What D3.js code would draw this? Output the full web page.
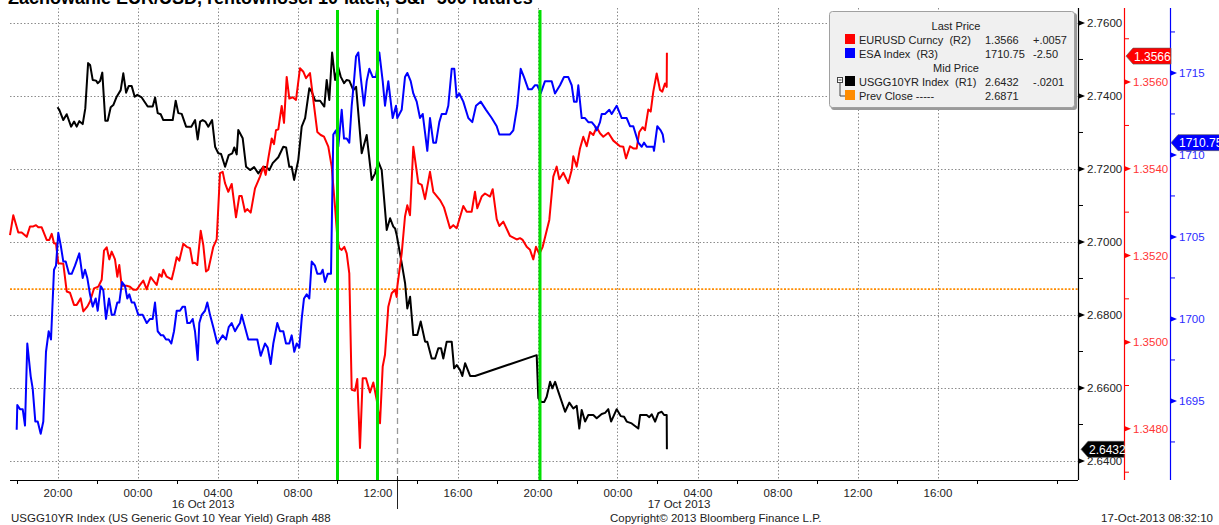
<!DOCTYPE html>
<html>
<head>
<meta charset="utf-8">
<script src="https://cdn.jsdelivr.net/npm/d3@7"></script>
<style>
  body { margin: 0; background: #fff; }
  svg { display: block; font-family: "Liberation Sans", Arial, sans-serif; }
  .pre { white-space: pre; }
</style>
</head>
<body>
<svg id="chart" width="1219" height="525"></svg>
<script>
// Zeitangaben: Stunden seit 15 Oct 2013 00:00

// USGG10YR Index (R1)
const usggData = [
  [20.0,2.7369],[20.09,2.7362],[20.29,2.7334],[20.46,2.7350],[20.68,2.7316],[20.83,2.7330],[20.96,2.7316],
  [21.09,2.7331],[21.26,2.7323],[21.39,2.7366],[21.53,2.7490],[21.63,2.7485],[21.76,2.7444],[21.93,2.7442],
  [22.01,2.7435],[22.13,2.7441],[22.24,2.7464],[22.39,2.7332],[22.51,2.7332],[22.66,2.7369],[22.79,2.7375],
  [22.96,2.7398],[23.16,2.7416],[23.29,2.7462],[23.43,2.7409],[23.56,2.7427],[23.71,2.7427],[23.86,2.7398],
  [23.99,2.7403],[24.21,2.7396],[24.51,2.7371],[24.76,2.7371],[24.88,2.7396],[25.01,2.7353],[25.16,2.7350],
  [25.29,2.7334],[25.76,2.7334],[25.91,2.7387],[26.04,2.7353],[26.21,2.7351],[26.43,2.7316],[26.69,2.7316],
  [26.88,2.7334],[27.01,2.7281],[27.13,2.7330],[27.26,2.7334],[27.39,2.7330],[27.54,2.7316],[27.73,2.7334],
  [27.88,2.7261],[28.04,2.7243],[28.18,2.7241],[28.38,2.7206],[28.56,2.7238],[28.74,2.7243],[28.84,2.7259],
  [28.96,2.7240],[29.04,2.7307],[29.26,2.7284],[29.43,2.7206],[29.63,2.7197],[29.83,2.7205],[30.04,2.7188],
  [30.29,2.7206],[30.46,2.7205],[30.59,2.7197],[30.76,2.7216],[31.04,2.7232],[31.29,2.7261],[31.43,2.7259],
  [31.59,2.7206],[31.71,2.7206],[31.83,2.7170],[32.04,2.7225],[32.21,2.7316],[32.38,2.7339],[32.59,2.7421],
  [32.71,2.7412],[32.88,2.7387],[33.13,2.7387],[33.34,2.7371],[33.46,2.7444],[33.59,2.7389],[33.73,2.7519],
  [33.88,2.7444],[34.03,2.7480],[34.16,2.7453],[34.33,2.7435],[34.46,2.7444],[34.59,2.7442],[34.79,2.7416],
  [34.93,2.7425],[35.21,2.7243],[35.46,2.7293],[35.71,2.7170],[35.88,2.7188],[36.04,2.7220],[36.21,2.7197],
  [36.46,2.7033],[36.63,2.7065],[36.79,2.7042],[36.88,2.7037],[36.96,2.7019],[37.21,2.6942],[37.38,2.6887],
  [37.49,2.6818],[37.63,2.6850],[37.79,2.6745],[37.99,2.6745],[38.16,2.6782],[38.38,2.6727],[38.49,2.6727],
  [38.71,2.6681],[38.88,2.6681],[39.04,2.6709],[39.18,2.6709],[39.29,2.6681],[39.46,2.6727],[39.71,2.6727],
  [39.83,2.6654],[39.96,2.6663],[40.13,2.6649],[40.24,2.6633],[40.38,2.6668],[40.63,2.6633],[40.88,2.6633],
  [43.96,2.6690],[44.04,2.6572],[44.18,2.6562],[44.34,2.6562],[44.46,2.6576],[44.63,2.6617],[44.74,2.6599],
  [44.88,2.6617],[45.04,2.6590],[45.38,2.6535],[45.59,2.6560],[45.79,2.6544],[45.96,2.6551],[46.09,2.6489],
  [46.21,2.6540],[46.38,2.6508],[46.54,2.6526],[46.79,2.6526],[46.96,2.6517],[47.21,2.6529],[47.38,2.6532],
  [47.54,2.6542],[47.68,2.6508],[47.96,2.6542],[48.16,2.6523],[48.33,2.6521],[48.46,2.6508],[48.71,2.6503],
  [49.04,2.6489],[49.13,2.6526],[49.46,2.6526],[49.59,2.6520],[49.71,2.6528],[49.88,2.6508],[50.04,2.6531],
  [50.21,2.6535],[50.33,2.6526],[50.46,2.6526],[50.47,2.6432]
];

// EURUSD Curncy (R2)
const eurData = [
  [17.625,1.35247],[17.79,1.35293],[18.04,1.35253],[18.21,1.35253],[18.46,1.35243],[18.625,1.35267],[18.79,1.35267],
  [18.925,1.35270],[19.04,1.35265],[19.21,1.35265],[19.46,1.35236],[19.59,1.35236],[19.71,1.35250],[19.825,1.35228],
  [19.925,1.35227],[20.04,1.35182],[20.29,1.35181],[20.46,1.35117],[20.625,1.35114],[20.825,1.35086],[20.96,1.35086],
  [21.16,1.35101],[21.29,1.35071],[21.49,1.35082],[21.625,1.35094],[21.825,1.35124],[22.04,1.35128],[22.21,1.35144],
  [22.325,1.35211],[22.46,1.35219],[22.59,1.35191],[22.71,1.35209],[22.875,1.35191],[22.99,1.35151],[23.09,1.35178],
  [23.21,1.35130],[23.46,1.35130],[23.625,1.35128],[23.79,1.35121],[23.96,1.35121],[24.125,1.35132],[24.29,1.35142],
  [24.46,1.35122],[24.66,1.35150],[24.825,1.35140],[24.96,1.35132],[25.09,1.35157],[25.21,1.35151],[25.29,1.35167],
  [25.46,1.35151],[25.71,1.35145],[25.825,1.35167],[25.96,1.35196],[26.09,1.35188],[26.29,1.35227],[26.46,1.35220],
  [26.625,1.35217],[26.76,1.35182],[26.875,1.35183],[26.99,1.35178],[27.16,1.35257],[27.29,1.35224],[27.425,1.35163],
  [27.54,1.35167],[27.79,1.35220],[27.96,1.35237],[28.125,1.35390],[28.26,1.35393],[28.375,1.35367],[28.54,1.35347],
  [28.71,1.35365],[28.925,1.35288],[29.09,1.35337],[29.21,1.35337],[29.375,1.35301],[29.49,1.35307],[29.66,1.35299],
  [29.875,1.35355],[30.125,1.35382],[30.29,1.35405],[30.41,1.35386],[30.54,1.35424],[30.71,1.35470],[30.825,1.35457],
  [30.925,1.35489],[31.04,1.35491],[31.21,1.35545],[31.325,1.35506],[31.46,1.35612],[31.59,1.35562],[31.76,1.35565],
  [31.925,1.35559],[32.125,1.35632],[32.29,1.35624],[32.425,1.35609],[32.625,1.35621],[32.79,1.35559],[32.99,1.35485],
  [33.16,1.35478],[33.325,1.35474],[33.54,1.35451],[33.71,1.35405],[33.875,1.35313],[33.99,1.35243],[34.09,1.35217],
  [34.21,1.35213],[34.34,1.35220],[34.46,1.35205],[34.59,1.35159],[34.71,1.34890],[34.875,1.34888],[34.99,1.34915],
  [35.125,1.34756],[35.26,1.34917],[35.425,1.34917],[35.625,1.34884],[35.79,1.34907],[35.96,1.34867],[36.125,1.34813],
  [36.26,1.34944],[36.375,1.34971],[36.54,1.35082],[36.71,1.35113],[36.875,1.35121],[36.96,1.35104],[36.99,1.35128],
  [37.21,1.35205],[37.375,1.35290],[37.49,1.35316],[37.625,1.35293],[37.79,1.35451],[38.04,1.35367],[38.21,1.35363],
  [38.375,1.35330],[38.625,1.35393],[38.79,1.35347],[39.125,1.35328],[39.325,1.35311],[39.625,1.35263],[39.79,1.35270],
  [39.96,1.35263],[40.29,1.35314],[40.46,1.35301],[40.71,1.35301],[40.875,1.35347],[40.99,1.35309],[41.21,1.35336],
  [41.375,1.35343],[41.625,1.35336],[41.76,1.35353],[41.96,1.35284],[42.09,1.35268],[42.29,1.35278],[42.625,1.35245],
  [42.96,1.35237],[43.125,1.35240],[43.26,1.35236],[43.46,1.35220],[43.625,1.35213],[43.79,1.35191],[43.925,1.35220],
  [44.09,1.35203],[44.26,1.35220],[44.59,1.35282],[44.79,1.35382],[44.96,1.35405],[45.09,1.35376],[45.29,1.35391],
  [45.54,1.35367],[45.71,1.35397],[45.79,1.35429],[45.96,1.35405],[46.125,1.35447],[46.29,1.35474],[46.46,1.35452],
  [46.625,1.35485],[46.79,1.35478],[46.96,1.35496],[47.125,1.35482],[47.29,1.35474],[47.54,1.35483],[47.79,1.35465],
  [48.125,1.35452],[48.29,1.35451],[48.425,1.35424],[48.625,1.35452],[48.79,1.35447],[48.96,1.35447],[49.09,1.35485],
  [49.26,1.35496],[49.375,1.35489],[49.54,1.35537],[49.66,1.35532],[49.79,1.35578],[49.96,1.35620],[50.125,1.35582],
  [50.24,1.35578],[50.375,1.35597],[50.46,1.35589],[50.47,1.35668]
];

// ESA Index (R3)
const esaData = [
  [17.96,1693.25],[17.99,1694.75],[18.125,1694.5],[18.26,1694.5],[18.375,1693.5],[18.49,1698.5],[18.66,1696.5],
  [18.76,1695.75],[18.89,1693.75],[19.01,1693.75],[19.16,1693.0],[19.29,1693.75],[19.425,1698.0],[19.56,1699.25],
  [19.675,1698.75],[19.825,1703.0],[19.925,1703.25],[20.04,1705.25],[20.16,1704.5],[20.29,1703.5],[20.41,1703.5],
  [20.575,1702.75],[20.71,1702.75],[20.875,1703.25],[21.09,1704.0],[21.26,1702.5],[21.375,1703.0],[21.49,1702.5],
  [21.625,1701.5],[21.76,1700.75],[21.91,1701.25],[22.01,1700.5],[22.16,1702.0],[22.29,1701.75],[22.425,1700.0],
  [22.575,1701.25],[22.71,1700.25],[22.84,1700.25],[22.99,1701.0],[23.09,1701.0],[23.225,1702.25],[23.375,1702.0],
  [23.49,1701.25],[23.59,1701.5],[23.71,1701.0],[23.84,1701.0],[24.04,1700.25],[24.26,1700.25],[24.46,1699.75],
  [24.625,1700.0],[24.76,1700.0],[24.875,1701.0],[25.01,1699.25],[25.175,1699.0],[25.29,1699.0],[25.425,1698.75],
  [25.56,1698.75],[25.69,1698.5],[25.825,1699.25],[25.96,1700.5],[26.125,1700.5],[26.26,1700.75],[26.375,1700.75],
  [26.49,1699.75],[26.625,1699.75],[26.76,1700.0],[26.875,1699.25],[27.01,1697.5],[27.09,1699.75],[27.21,1700.25],
  [27.375,1700.5],[27.49,1701.0],[27.625,1700.25],[27.79,1699.5],[27.99,1698.5],[28.125,1698.75],[28.26,1699.0],
  [28.425,1698.75],[28.56,1699.5],[28.71,1699.75],[28.875,1699.25],[28.99,1699.5],[29.125,1699.75],[29.21,1700.25],
  [29.375,1699.5],[29.54,1698.75],[29.79,1698.75],[29.99,1698.75],[30.16,1697.75],[30.375,1698.5],[30.51,1698.25],
  [30.66,1697.25],[30.79,1698.5],[30.99,1699.75],[31.125,1699.25],[31.29,1699.25],[31.425,1698.5],[31.59,1698.5],
  [31.71,1699.0],[31.84,1698.0],[31.96,1698.5],[32.09,1698.25],[32.21,1700.0],[32.325,1701.25],[32.46,1701.5],
  [32.59,1701.25],[32.71,1703.5],[32.875,1703.25],[32.99,1702.75],[33.16,1702.75],[33.26,1703.0],[33.375,1702.25],
  [33.51,1702.75],[33.675,1702.75],[33.79,1711.25],[33.925,1711.5],[34.04,1710.5],[34.21,1712.75],[34.325,1711.0],
  [34.46,1711.0],[34.59,1710.75],[34.71,1713.0],[34.825,1714.5],[34.925,1716.0],[35.04,1716.25],[35.16,1714.75],
  [35.325,1713.0],[35.46,1714.5],[35.59,1715.25],[35.76,1714.75],[35.925,1714.75],[36.09,1716.25],[36.26,1714.5],
  [36.375,1713.0],[36.54,1714.5],[36.76,1712.25],[36.925,1713.0],[36.99,1712.25],[37.21,1712.75],[37.375,1714.75],
  [37.49,1715.0],[37.66,1714.5],[37.79,1713.75],[37.96,1713.25],[38.125,1712.25],[38.26,1712.5],[38.49,1710.25],
  [38.625,1712.25],[38.79,1710.75],[38.925,1710.75],[39.09,1712.0],[39.21,1712.5],[39.425,1712.5],[39.54,1713.0],
  [39.71,1715.25],[39.84,1715.25],[39.96,1713.5],[40.09,1713.75],[40.29,1713.25],[40.54,1712.25],[40.74,1712.0],
  [40.925,1713.0],[41.16,1713.25],[41.425,1712.75],[41.71,1712.25],[41.96,1711.75],[42.09,1711.25],[42.375,1711.25],
  [42.625,1711.25],[42.79,1711.5],[42.99,1713.0],[43.16,1715.25],[43.325,1714.75],[43.54,1714.0],[43.71,1714.0],
  [43.875,1714.25],[43.99,1714.25],[44.16,1713.75],[44.375,1714.5],[44.71,1714.5],[44.875,1713.75],[45.125,1714.25],
  [45.325,1714.75],[45.54,1714.75],[45.71,1714.25],[45.825,1713.25],[45.96,1713.25],[46.04,1714.25],[46.21,1712.25],
  [46.375,1712.25],[46.54,1712.0],[46.71,1712.0],[46.875,1711.75],[46.96,1711.5],[47.125,1712.0],[47.21,1712.5],
  [47.375,1712.5],[47.59,1712.75],[47.71,1712.5],[47.96,1713.0],[48.21,1712.25],[48.46,1712.25],[48.625,1711.75],
  [48.79,1711.75],[49.04,1710.75],[49.21,1710.5],[49.325,1710.75],[49.46,1710.5],[49.79,1710.5],[49.825,1710.25],
  [49.99,1711.75],[50.16,1711.5],[50.26,1711.25],[50.325,1710.75]
];

// Achsen und Markierungen
const xDomainHours = [17.625, 71.025];
const timeTickHours = [20, 24, 28, 32, 36, 40, 44, 48, 52, 56, 60, 64];
const minorTickHours = [18, 22, 26, 30, 34, 38, 42, 46, 50, 54, 58, 62, 66, 70];
const dateLabels = [[27.275, "16 Oct 2013"], [51.075, "17 Oct 2013"]];
const greenLineHours = [34.0, 36.0, 44.125];
const sessionHour = 37.0;

const usggDomain = [2.6348, 2.7641];
const usggTicks = [2.64, 2.66, 2.68, 2.70, 2.72, 2.74, 2.76];
const usggMinor = [2.65, 2.67, 2.69, 2.71, 2.73, 2.75];
const eurDomain = [1.34682, 1.35771];
const eurTicks = [1.348, 1.350, 1.352, 1.354, 1.356];
const eurMinor = [1.347, 1.349, 1.351, 1.353, 1.355, 1.357];
const esaDomain = [1690.18, 1718.96];
const esaTicks = [1695, 1700, 1705, 1710, 1715];
const esaMinor = [1692.5, 1697.5, 1702.5, 1707.5, 1712.5, 1717.5];

const prevClose = 2.6871;
const lastEur = 1.3566, lastEsa = 1710.75, lastUsgg = 2.6432;

const legendRows = [
  { header: "Last Price" },
  { color: "#ff0000", name: "EURUSD Curncy  (R2)", last: "1.3566", chg: "+.0057" },
  { color: "#0000ff", name: "ESA Index  (R3)", last: "1710.75", chg: "-2.50" },
  { header: "Mid Price" },
  { color: "#000000", name: "USGG10YR Index  (R1)", last: "2.6432", chg: "-.0201", tree: true },
  { color: "#ff8c00", name: "Prev Close -----", last: "2.6871", chg: "" }
];

const titleText = "Zachowanie EUR/USD, rentowności 10-latek, S&P 500 futures";
const footLeft = "USGG10YR Index (US Generic Govt 10 Year Yield) Graph 488";
const footMid = "Copyright\u00a9 2013 Bloomberg Finance L.P.";
const footRight = "17-Oct-2013 08:32:10";

// Layout
const plot = { left: 10, right: 1078, top: 8, bottom: 480 };
const axisX = { usgg: 1078, eur: 1124, esa: 1170 };
const t0 = new Date(2013, 9, 15, 0, 0).getTime();
const toDate = h => new Date(t0 + h * 3600e3);

const svg = d3.select("#chart");

const x = d3.scaleTime().domain(xDomainHours.map(toDate)).range([plot.left, plot.right]);
const yU = d3.scaleLinear().domain(usggDomain).range([plot.bottom, plot.top]);
const yE = d3.scaleLinear().domain(eurDomain).range([plot.bottom, plot.top]);
const yS = d3.scaleLinear().domain(esaDomain).range([plot.bottom, plot.top]);

// Titel (oben abgeschnitten)
svg.append("text").attr("x", 8).attr("y", 4)
  .attr("font-size", 18).attr("font-weight", "bold").attr("fill", "#000")
  .text(titleText);

// Gitter
const grid = svg.append("g").attr("stroke", "#8c8c8c").attr("stroke-width", 1).attr("stroke-dasharray", "1.5,2");
grid.selectAll(".h").data(usggTicks).join("line")
  .attr("x1", plot.left).attr("x2", plot.right)
  .attr("y1", d => Math.round(yU(d)) + 0.5).attr("y2", d => Math.round(yU(d)) + 0.5);
grid.selectAll(".v").data(timeTickHours).join("line")
  .attr("x1", d => Math.round(x(toDate(d))) + 0.5).attr("x2", d => Math.round(x(toDate(d))) + 0.5)
  .attr("y1", plot.top).attr("y2", plot.bottom);

// Vorheriger Schluss
svg.append("line")
  .attr("x1", plot.left).attr("x2", plot.right)
  .attr("y1", yU(prevClose)).attr("y2", yU(prevClose))
  .attr("stroke", "#ff8c00").attr("stroke-width", 1.6).attr("stroke-dasharray", "2,1.6");

// Sitzungslinie
svg.append("line")
  .attr("x1", x(toDate(sessionHour))).attr("x2", x(toDate(sessionHour)))
  .attr("y1", plot.top).attr("y2", plot.bottom)
  .attr("stroke", "#999").attr("stroke-width", 1.3).attr("stroke-dasharray", "6,4");
svg.append("line")
  .attr("x1", x(toDate(sessionHour))).attr("x2", x(toDate(sessionHour)))
  .attr("y1", plot.bottom - 4).attr("y2", plot.bottom + 29)
  .attr("stroke", "#222").attr("stroke-width", 1);

// Linien
const mkLine = ys => d3.line().x(d => x(toDate(d[0]))).y(d => ys(d[1]));
svg.append("path").datum(usggData).attr("d", mkLine(yU))
  .attr("fill", "none").attr("stroke", "#000").attr("stroke-width", 2).attr("stroke-linejoin", "round");
svg.append("path").datum(eurData).attr("d", mkLine(yE))
  .attr("fill", "none").attr("stroke", "#ff0000").attr("stroke-width", 2).attr("stroke-linejoin", "round");
svg.append("path").datum(esaData).attr("d", mkLine(yS))
  .attr("fill", "none").attr("stroke", "#0000ff").attr("stroke-width", 2).attr("stroke-linejoin", "round");

// Grüne Markierungen
svg.selectAll(".green").data(greenLineHours).join("line")
  .attr("x1", d => x(toDate(d))).attr("x2", d => x(toDate(d)))
  .attr("y1", plot.top + 2).attr("y2", plot.bottom)
  .attr("stroke", "#00e000").attr("stroke-width", 3);

// Zeitachse
const xAxis = svg.append("g").attr("transform", `translate(0,${plot.bottom})`)
  .call(d3.axisBottom(x).tickValues(timeTickHours.map(toDate)).tickSize(0).tickPadding(9)
    .tickFormat(d3.timeFormat("%H:%M")));
xAxis.select(".domain").remove();
xAxis.selectAll("text").attr("font-size", 11.5).attr("fill", "#222").attr("font-family", null);
svg.append("line").attr("x1", plot.left).attr("x2", plot.right)
  .attr("y1", plot.bottom + 0.5).attr("y2", plot.bottom + 0.5).attr("stroke", "#000");
svg.append("g").attr("transform", `translate(0,${plot.bottom})`)
  .selectAll("line").data(minorTickHours).join("line")
  .attr("x1", d => x(toDate(d))).attr("x2", d => x(toDate(d)))
  .attr("y1", 0).attr("y2", 4).attr("stroke", "#000");
svg.selectAll(".dlab").data(dateLabels).join("text")
  .attr("x", d => x(toDate(d[0]))).attr("y", 508)
  .attr("text-anchor", "middle").attr("font-size", 11.5).attr("fill", "#222")
  .text(d => d[1]);

// Rechte Achsen
function rightAxis(ys, xPos, ticks, minor, color, labelColor, fmt) {
  const g = svg.append("g").attr("transform", `translate(${xPos},0)`);
  g.call(d3.axisRight(ys).tickValues(ticks).tickSize(0).tickPadding(9).tickFormat(fmt));
  g.select(".domain").remove();
  g.selectAll("text").attr("font-size", 11.5).attr("fill", labelColor).attr("font-family", null);
  g.append("line").attr("x1", 0.5).attr("x2", 0.5).attr("y1", plot.top).attr("y2", plot.bottom)
    .attr("stroke", color).attr("stroke-width", 1.2);
  g.selectAll(".tri").data(ticks).join("path")
    .attr("d", d => `M1,${ys(d) - 2.5}L7,${ys(d)}L1,${ys(d) + 2.5}Z`).attr("fill", color);
  g.selectAll(".mn").data(minor).join("line")
    .attr("x1", 1).attr("x2", 5).attr("y1", d => ys(d)).attr("y2", d => ys(d)).attr("stroke", color);
}
rightAxis(yU, axisX.usgg, usggTicks, usggMinor, "#000", "#222", d3.format(".4f"));
rightAxis(yE, axisX.eur, eurTicks, eurMinor, "#ff0000", "#ff3535", d3.format(".4f"));
rightAxis(yS, axisX.esa, esaTicks, esaMinor, "#0000ff", "#2c2cff", d3.format("d"));

// Letzte Kurse als Marken
function priceTag(xTip, y, w, fill, label) {
  const h = 16;
  svg.append("path")
    .attr("d", `M${xTip},${y}L${xTip + 7},${y - h / 2}L${xTip + w},${y - h / 2}L${xTip + w},${y + h / 2}L${xTip + 7},${y + h / 2}Z`)
    .attr("fill", fill).attr("stroke", "#555").attr("stroke-width", 0.6);
  svg.append("text").attr("x", xTip + 8).attr("y", y + 4.5)
    .attr("font-size", 12).attr("fill", "#fff").text(label);
}
priceTag(axisX.eur + 2, yE(lastEur), 45, "#ff0000", d3.format(".4f")(lastEur));
priceTag(axisX.esa + 1, yS(lastEsa), 52, "#0000ff", d3.format(".2f")(lastEsa));
priceTag(axisX.usgg + 3, yU(lastUsgg), 43, "#000", d3.format(".4f")(lastUsgg));

// Legende
const lg = svg.append("g");
lg.append("rect").attr("x", 831).attr("y", 13).attr("width", 246).attr("height", 97).attr("rx", 3)
  .attr("fill", "#9a9a9a");
lg.append("rect").attr("x", 829.5).attr("y", 11.5).attr("width", 245).attr("height", 96).attr("rx", 3)
  .attr("fill", "#f0f0f0").attr("stroke", "#a0a0a0");
const rowY = [30, 44, 58, 72, 86, 100];
legendRows.forEach((r, i) => {
  const yb = rowY[i];
  if (r.header) {
    lg.append("text").attr("x", 956).attr("y", yb).attr("text-anchor", "middle")
      .attr("font-size", 11).attr("fill", "#222").text(r.header);
    return;
  }
  lg.append("rect").attr("x", 845).attr("y", yb - 10).attr("width", 10).attr("height", 10).attr("fill", r.color);
  lg.append("text").attr("class", "pre").attr("x", 859).attr("y", yb)
    .attr("font-size", 11).attr("fill", "#222").text(r.name);
  lg.append("text").attr("x", 985).attr("y", yb).attr("font-size", 11).attr("fill", "#222").text(r.last);
  lg.append("text").attr("x", 1033).attr("y", yb).attr("font-size", 11).attr("fill", "#222").text(r.chg);
  if (r.tree) {
    lg.append("rect").attr("x", 837.5).attr("y", yb - 8.5).attr("width", 5).attr("height", 5)
      .attr("fill", "#fff").attr("stroke", "#444");
    lg.append("line").attr("x1", 838.5).attr("x2", 841.5).attr("y1", yb - 6).attr("y2", yb - 6).attr("stroke", "#444");
    lg.append("path").attr("d", `M840,${yb - 3.5}V${yb + 10}H845`).attr("fill", "none").attr("stroke", "#444");
  }
});

// Fußzeile
const foot = svg.append("g").attr("font-size", 11.5).attr("fill", "#222");
foot.append("text").attr("x", 11).attr("y", 522).text(footLeft);
foot.append("text").attr("x", 610).attr("y", 522).text(footMid);
foot.append("text").attr("x", 1213).attr("y", 522).attr("text-anchor", "end").text(footRight);
</script>
</body>
</html>
